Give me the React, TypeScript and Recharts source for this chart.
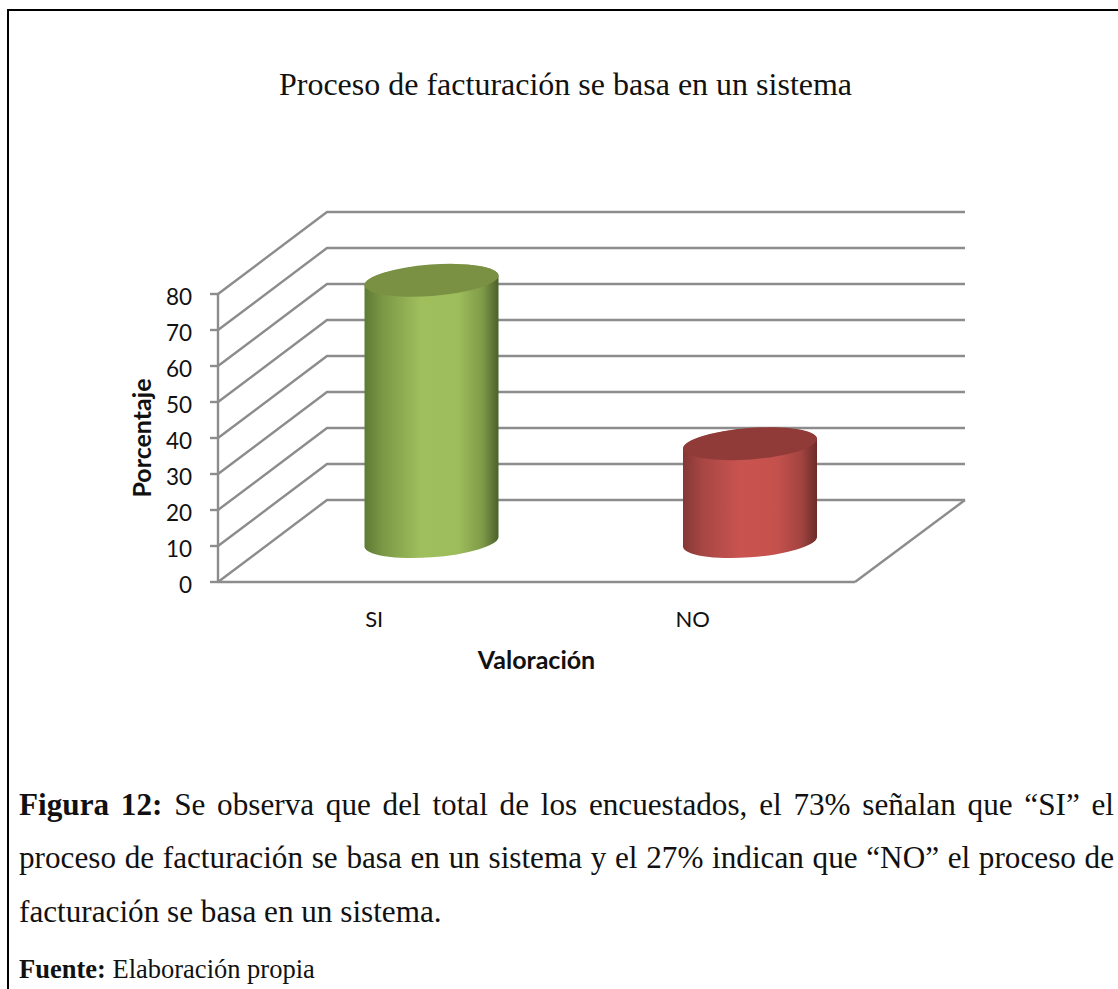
import React from "react";
import { BarChart, Bar, XAxis, YAxis, CartesianGrid } from "recharts";

const categories = ["SI", "NO"];
const percentages = [72.7, 27.3];
const yTicks = [0, 10, 20, 30, 40, 50, 60, 70, 80];
const chartTitle = "Proceso de facturación se basa en un sistema";
const yAxisTitle = "Porcentaje";
const xAxisTitle = "Valoración";

const chartData = categories.map((name, i) => ({ name, value: percentages[i] }));

const GRID = "#8c8c8c";
const DEPTH_X = 109;
const DEPTH_Y = -82;
const BACK_EXTRA = 1;
const PLOT_BOTTOM = 582;
const SERIF = "'Liberation Serif', serif";
const SANS = "Lato, 'Noto Sans', sans-serif";

const palettes = [
  {
    top: "#7a9144",
    stops: [
      ["0%", "#5f7a34"],
      ["14%", "#7b9946"],
      ["42%", "#9fbf5d"],
      ["70%", "#9dbc5b"],
      ["88%", "#7f9b48"],
      ["100%", "#4c602a"],
    ],
  },
  {
    top: "#903b38",
    stops: [
      ["0%", "#853734"],
      ["14%", "#a64643"],
      ["42%", "#c9534f"],
      ["70%", "#c5514d"],
      ["88%", "#a34441"],
      ["100%", "#6c2c29"],
    ],
  },
];

function Cylinder(props: any) {
  const { x, y, width, height, index } = props;
  const p = palettes[index % palettes.length];
  const id = `cyl-${index}`;
  // the cylinder stands in the middle of the floor's depth
  const left = x + DEPTH_X / 2;
  const right = left + width;
  const cx = left + width / 2;
  const topY = y + DEPTH_Y / 2 + 1;
  const baseY = topY + height;
  const a = width / 2 + 0.2;
  const b = 15.7;
  const rot = -4.3;
  const tilt = 4.75;
  const body =
    `M${left} ${topY + tilt}L${left} ${baseY + tilt}` +
    `A${a} ${b} ${rot} 0 0 ${right} ${baseY - tilt}` +
    `L${right} ${topY - tilt}` +
    `A${a} ${b} ${rot} 0 0 ${left} ${topY + tilt}Z`;
  return (
    <g>
      <defs>
        <linearGradient id={id} x1="0" y1="0" x2="1" y2="0">
          {p.stops.map(([o, c]) => (
            <stop key={o} offset={o} stopColor={c} />
          ))}
        </linearGradient>
      </defs>
      <path d={body} fill={`url(#${id})`} />
      <ellipse cx={cx} cy={topY} rx={a} ry={b} fill={p.top} transform={`rotate(${rot} ${cx} ${topY})`} />
    </g>
  );
}

function GridLine(props: any) {
  const { x1, y1, x2 } = props;
  const bx = x1 + DEPTH_X;
  const by = y1 + DEPTH_Y;
  const ex = x2 + DEPTH_X + BACK_EXTRA;
  const isFloor = Math.abs(y1 - PLOT_BOTTOM) < 1;
  return (
    <g>
      <path d={`M${x1} ${y1}L${bx} ${by}L${ex} ${by}`} fill="none" stroke={GRID} strokeWidth={2.4} />
      {isFloor ? <path d={`M${x2} ${y1}L${ex} ${by}`} fill="none" stroke={GRID} strokeWidth={2.4} /> : null}
    </g>
  );
}

const abs = (style: React.CSSProperties): React.CSSProperties => ({
  position: "absolute",
  whiteSpace: "nowrap",
  color: "#111",
  ...style,
});

export default function App() {
  return (
    <div style={{ position: "absolute", left: 0, top: 0, width: 1118, height: 989, overflow: "hidden", background: "#fff" }}>
      <div style={{ position: "absolute", left: 7, top: 9, width: 1200, height: 1200, borderLeft: "2.5px solid #000", borderTop: "2.5px solid #000" }} />
      <div style={abs({ left: 0, width: 1131, top: 68, textAlign: "center", fontFamily: SERIF, fontSize: 32, lineHeight: "32px" })}>
        {chartTitle}
      </div>

      <div style={{ position: "absolute", left: 0, top: 0 }}>
        <BarChart
          width={1118}
          height={989}
          data={chartData}
          barSize={134}
          margin={{ left: 158, right: 263, top: 294, bottom: 377 }}
        >
          <CartesianGrid horizontal={(p: any) => <GridLine key={p.key} {...p} />} vertical={false} />
          <XAxis
            dataKey="name"
            height={30}
            interval={0}
            tickLine={false}
            axisLine={{ stroke: GRID, strokeWidth: 2.4 }}
            tick={{ fill: "#111", fontFamily: SANS, fontSize: 22, dx: -3 }}
            tickMargin={23}
            label={{ value: xAxisTitle, position: "center", dy: 63, fontFamily: SANS, fontSize: 25, fontWeight: 700, fill: "#111" }}
          />
          <YAxis
            width={60}
            domain={[0, 80]}
            ticks={yTicks}
            interval={0}
            tickSize={8}
            tickMargin={18}
            axisLine={{ stroke: GRID, strokeWidth: 2.4 }}
            tickLine={{ stroke: GRID, strokeWidth: 2.4 }}
            tick={{ fill: "#111", fontFamily: SANS, fontSize: 22.5, dy: 3 }}
            label={{ value: yAxisTitle, position: "center", angle: -90, dx: -46, fontFamily: SANS, fontSize: 25, fontWeight: 700, fill: "#111" }}
          />
          <Bar dataKey="value" isAnimationActive={false} shape={(p: any) => <Cylinder {...p} />} />
        </BarChart>
      </div>

      <div style={abs({ left: 19, width: 1095, top: 785, fontFamily: SERIF, fontSize: 31.2, lineHeight: "40px", textAlign: "justify", textAlignLast: "justify", whiteSpace: "normal" })}>
        <b>Figura 12:</b> Se observa que del total de los encuestados, el 73% señalan que “SI” el
      </div>
      <div style={abs({ left: 19, width: 1095, top: 838, fontFamily: SERIF, fontSize: 31.2, lineHeight: "40px", textAlign: "justify", textAlignLast: "justify", whiteSpace: "normal" })}>
        proceso de facturación se basa en un sistema y el 27% indican que “NO” el proceso de
      </div>
      <div style={abs({ left: 19, top: 892, fontFamily: SERIF, fontSize: 31.2, lineHeight: "40px" })}>
        facturación se basa en un sistema.
      </div>
      <div style={abs({ left: 19, top: 955, fontFamily: SERIF, fontSize: 26.5, lineHeight: "28px" })}>
        <b>Fuente:</b> Elaboración propia
      </div>
    </div>
  );
}
